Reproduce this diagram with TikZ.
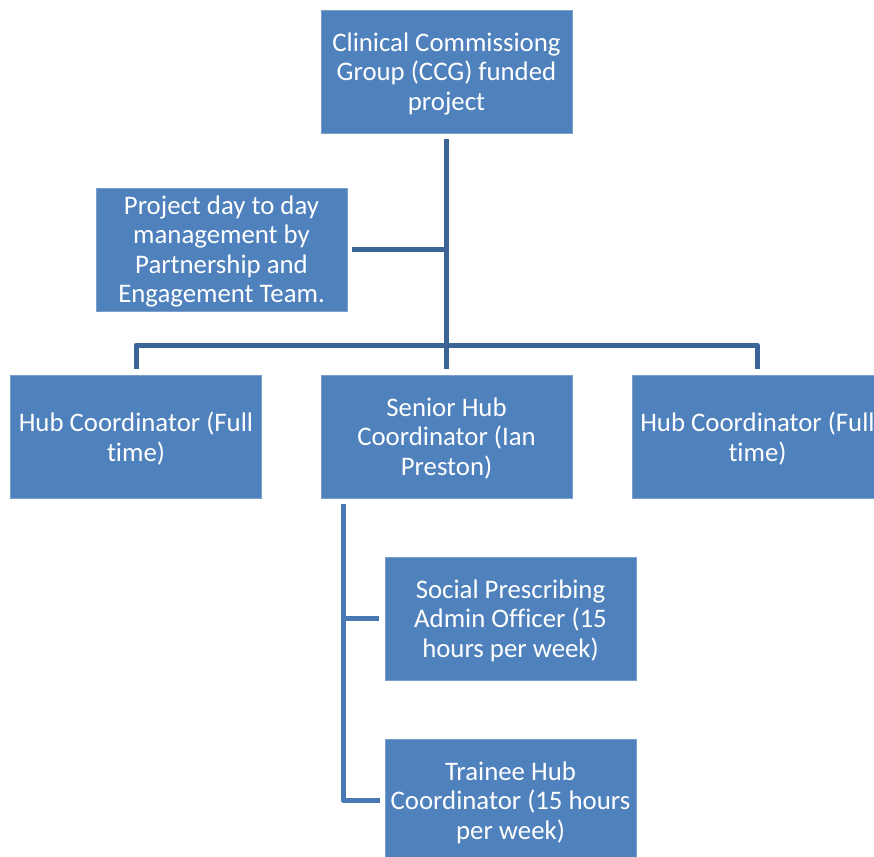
\documentclass[tikz,border=0pt]{standalone}
\usepackage{fontspec}
\setmainfont{Carlito}[Ligatures=NoCommon]
\definecolor{boxblue}{HTML}{4F81BD}
\definecolor{boxedge}{HTML}{7A9FCC}
\definecolor{lineblue}{HTML}{3B6497}
\definecolor{lineblueb}{HTML}{4A78B3}
\begin{document}
\begin{tikzpicture}[x=1pt,y=-1pt,
  box/.style={rectangle, fill=boxblue, draw=boxedge, line width=0.6pt,
    minimum width=251pt, minimum height=123pt, inner sep=0pt},
  boxtext/.style={inner sep=0pt, yshift=-2pt, text=white, align=center,
    font=\fontsize{26.8}{29.5}\selectfont},
  conn/.style={draw=lineblue, line width=5pt},
  connb/.style={draw=lineblueb, line width=5pt}]
\useasboundingbox (0,0) rectangle (874,856);
\clip (0,0) rectangle (874,856);
\node[box, label={[boxtext]center:{Clinical Commissiong\\Group (CCG) funded\\project}}] (top) at (446.5,71.5) {};
\node[box, label={[boxtext]center:{Project day to day\\management by\\Partnership and\\Engagement Team.}}] (mid) at (221.5,249.5) {};
\node[box, label={[boxtext]center:{Hub Coordinator (Full\\time)}}] (hubl) at (136,436.5) {};
\node[box, label={[boxtext]center:{Senior Hub\\Coordinator (Ian\\Preston)}}] (senior) at (446.5,436.5) {};
\node[box, label={[boxtext]center:{Hub Coordinator (Full\\time)}}] (hubr) at (757.5,436.5) {};
\node[box, label={[boxtext]center:{Social Prescribing\\Admin Officer (15\\hours per week)}}] (social) at (510.5,618.5) {};
\node[box, label={[boxtext]center:{Trainee Hub\\Coordinator (15 hours\\per week)}}] (trainee) at (510.5,800.5) {};
\coordinate (jmid) at (446.5,249.5);
\coordinate (bl) at (136,345);
\coordinate (br) at (757,345);
\coordinate (jsoc) at (343.5,618.5);
\coordinate (jtr) at (343.5,800.5);
\draw[conn] ([yshift=-6pt]top.south) -- ([yshift=6pt]senior.north);
\draw[conn] ([xshift=5pt]mid.east) -- (jmid);
\draw[conn, line join=round] ([yshift=6pt]hubl.north) -- (bl) -- (br) -- ([yshift=6pt,xshift=-0.5pt]hubr.north);
\draw[connb, line join=round] ([yshift=-6pt,xshift=-103pt]senior.south) -- (jtr) -- ([xshift=-5pt]trainee.west);
\draw[connb] (jsoc) -- ([xshift=-6pt]social.west);
\end{tikzpicture}
\end{document}
